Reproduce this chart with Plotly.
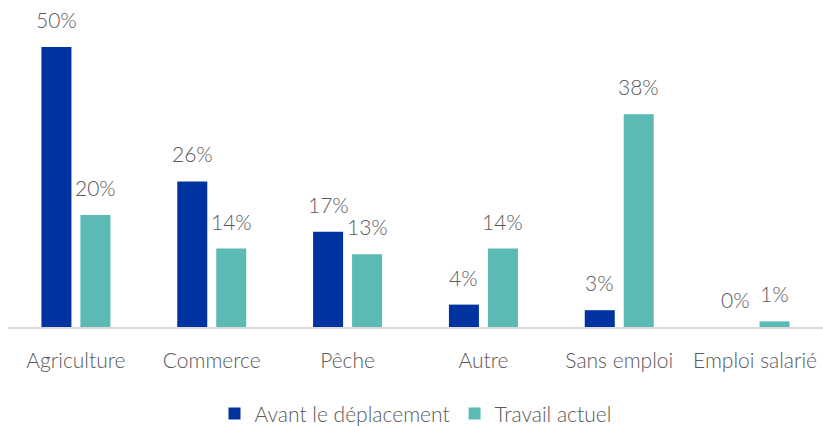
import plotly.graph_objects as go

# Données
categories = ["Agriculture", "Commerce", "Pêche", "Autre", "Sans emploi", "Emploi salarié"]
avant = [50, 26, 17, 4, 3, 0]
actuel = [20, 14, 13, 14, 38, 1]

BLUE = "#0033A0"
TEAL = "#5BBAB3"
GREY = "#595959"
FONT = dict(family="Lato", size=21, color=GREY, weight=300)

fig = go.Figure()
fig.add_trace(go.Bar(x=categories, y=avant, name="Avant le déplacement", marker_color=BLUE,
                     marker_line_width=0))
fig.add_trace(go.Bar(x=categories, y=actuel, name="Travail actuel", marker_color=TEAL,
                     marker_line_width=0))

# étiquettes de valeur au-dessus des barres
for vals, shift in [(avant, -19.5), (actuel, 19.5)]:
    for cat, v in zip(categories, vals):
        fig.add_annotation(x=cat, y=v, text=f"{v}%", showarrow=False,
                           xshift=shift, yshift=13, yanchor="bottom", font=FONT)

fig.update_layout(
    width=823, height=426,
    margin=dict(l=8, r=0, t=47, b=99, autoexpand=False),
    barmode="group", bargap=0.426, bargroupgap=0.23,
    plot_bgcolor="white", paper_bgcolor="white",
    font=FONT,
    showlegend=True,
    legend=dict(orientation="h", x=0.5, xanchor="center", y=-0.31, yanchor="middle",
                font=FONT, itemwidth=30),
)
fig.update_xaxes(showline=True, linecolor="#d9d9d9", linewidth=2, ticks="",
                 tickfont=FONT, ticklabelstandoff=14, showgrid=False)
fig.update_yaxes(range=[0, 50], visible=False, showgrid=False)

# pas de marge de page autour du graphique, pas de barre d'outils
fig.write_html("out.html", config={"displayModeBar": False},
               post_script="document.body.style.margin='0';")
